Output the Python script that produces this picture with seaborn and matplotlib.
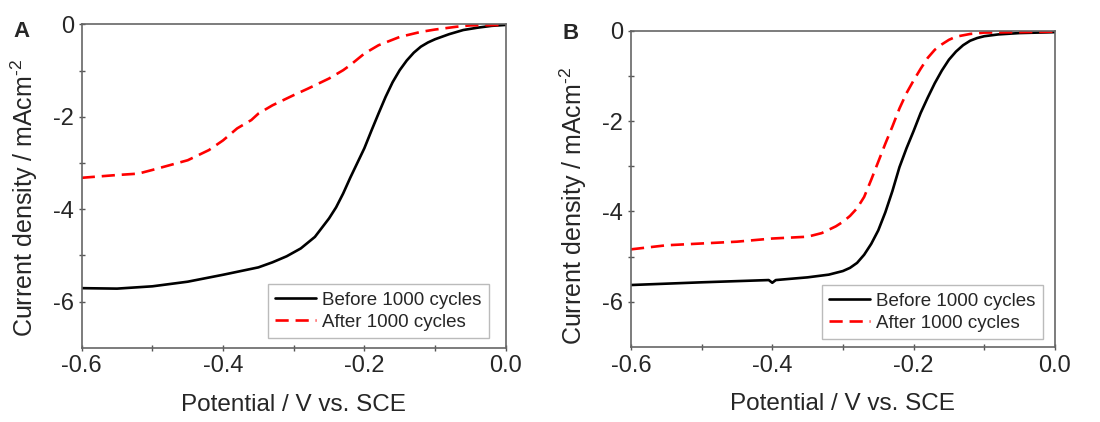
import numpy as np
import pandas as pd
import matplotlib
matplotlib.use('Agg')
import matplotlib.pyplot as plt
import seaborn as sns

# Painel A
a_before_x = [-0.60, -0.55, -0.50, -0.45, -0.40, -0.35, -0.33, -0.31, -0.29, -0.27, -0.25,
              -0.24, -0.23, -0.22, -0.21, -0.20, -0.19, -0.18, -0.17, -0.16, -0.15, -0.14,
              -0.13, -0.12, -0.11, -0.10, -0.08, -0.06, -0.04, -0.02, 0.00]
a_before_y = [-5.71, -5.72, -5.67, -5.57, -5.42, -5.26, -5.15, -5.02, -4.85, -4.60, -4.20,
              -3.96, -3.66, -3.32, -3.00, -2.68, -2.30, -1.93, -1.57, -1.25, -0.99, -0.78,
              -0.61, -0.48, -0.39, -0.32, -0.21, -0.12, -0.07, -0.03, -0.01]
a_after_x = [-0.60, -0.55, -0.52, -0.50, -0.45, -0.42, -0.40, -0.38, -0.36, -0.35, -0.33,
             -0.30, -0.28, -0.25, -0.23, -0.22, -0.20, -0.18, -0.15, -0.12, -0.10, -0.07,
             -0.05, 0.00]
a_after_y = [-3.32, -3.26, -3.23, -3.15, -2.94, -2.72, -2.51, -2.25, -2.07, -1.93, -1.75,
             -1.53, -1.39, -1.17, -0.99, -0.88, -0.63, -0.45, -0.27, -0.16, -0.11, -0.05,
             -0.02, -0.01]

# Painel B
b_before_x = [-0.60, -0.50, -0.405, -0.40, -0.395, -0.35, -0.32, -0.30, -0.29, -0.28, -0.27,
              -0.26, -0.25, -0.24, -0.23, -0.22, -0.21, -0.20, -0.19, -0.18, -0.17, -0.16,
              -0.15, -0.14, -0.13, -0.12, -0.11, -0.10, -0.08, -0.05, 0.00]
b_before_y = [-5.63, -5.57, -5.52, -5.58, -5.52, -5.46, -5.40, -5.32, -5.25, -5.14, -4.96,
              -4.72, -4.42, -4.02, -3.55, -3.02, -2.60, -2.22, -1.82, -1.48, -1.16, -0.88,
              -0.64, -0.46, -0.32, -0.22, -0.16, -0.12, -0.08, -0.05, -0.03]
b_after_x = [-0.60, -0.55, -0.50, -0.45, -0.40, -0.35, -0.33, -0.31, -0.30, -0.29, -0.28,
             -0.27, -0.26, -0.25, -0.24, -0.23, -0.22, -0.21, -0.20, -0.19, -0.18, -0.17,
             -0.16, -0.15, -0.14, -0.12, -0.10, 0.00]
b_after_y = [-4.84, -4.75, -4.71, -4.67, -4.60, -4.56, -4.48, -4.33, -4.23, -4.10, -3.93,
             -3.68, -3.30, -2.90, -2.50, -2.12, -1.72, -1.38, -1.10, -0.84, -0.60, -0.42,
             -0.30, -0.20, -0.13, -0.07, -0.04, -0.02]

labels = ['Before 1000 cycles', 'After 1000 cycles']
panels = ['A', 'B']


def tabela(xb, yb, xa, ya):
    return pd.concat([
        pd.DataFrame({'x': xb, 'y': yb, 'serie': labels[0]}),
        pd.DataFrame({'x': xa, 'y': ya, 'serie': labels[1]}),
    ], ignore_index=True)


dados = [tabela(a_before_x, a_before_y, a_after_x, a_after_y),
         tabela(b_before_x, b_before_y, b_after_x, b_after_y)]

sns.set_style('ticks')
plt.rcParams['font.family'] = ['Liberation Sans', 'DejaVu Sans']
plt.rcParams['mathtext.fontset'] = 'custom'
plt.rcParams['mathtext.rm'] = 'Liberation Sans'

fig = plt.figure(figsize=(11, 4.22), dpi=100)
posicoes = [[0.0743, 0.176, 0.3854, 0.766], [0.5736, 0.178, 0.3854, 0.749]]
legend_anchor = [(0.9606, 0.030), (0.9717, 0.024)]
ylabel_pos = [(-0.099, 0.463), (-0.099, 0.445)]
letra_pos = [(0.012, 0.925), (0.511, 0.921)]

for i, df in enumerate(dados):
    ax = fig.add_axes(posicoes[i])
    sns.lineplot(data=df, x='x', y='y', hue='serie', style='serie',
                 palette={labels[0]: 'black', labels[1]: '#ff0000'},
                 dashes={labels[0]: '', labels[1]: (5, 2.6)},
                 linewidth=1.9, sort=False, estimator=None, ax=ax)
    ax.set_xlim(-0.6, 0.0)
    ax.set_ylim(-7, 0)
    ax.set_xticks([-0.6, -0.4, -0.2, 0.0])
    ax.set_xticklabels(['-0.6', '-0.4', '-0.2', '0.0'])
    ax.set_xticks([-0.5, -0.3, -0.1], minor=True)
    ax.set_yticks([0, -2, -4, -6])
    ax.set_yticklabels(['0', '-2', '-4', '-6'])
    ax.set_yticks([-1, -3, -5], minor=True)
    ax.tick_params(which='major', direction='inout', length=5, width=1,
                   color='#555555', labelsize=17, pad=3)
    ax.tick_params(which='minor', direction='inout', length=4, width=1, color='#555555')
    for s in ax.spines.values():
        s.set_visible(True)
        s.set_color('#666666')
        s.set_linewidth(1.2)
    ax.set_xlabel('Potential / V vs. SCE', fontsize=17.5, labelpad=12)
    ax.set_ylabel(r'Current density / mAcm$^{\text{-}2}$', fontsize=18)
    ax.yaxis.set_label_coords(*ylabel_pos[i])

    leg = ax.legend(loc='lower right', bbox_to_anchor=legend_anchor[i], fontsize=13.5,
                    frameon=True, fancybox=False, handlelength=2.2, handletextpad=0.3,
                    borderpad=0.4, labelspacing=0.25, borderaxespad=0, title=None)
    leg.get_frame().set_edgecolor('#aaaaaa')
    leg.get_frame().set_linewidth(1.0)

    fig.text(letra_pos[i][0], letra_pos[i][1], panels[i], fontsize=16,
             fontweight='bold', ha='left', va='center')

plt.savefig('out.png', dpi=100)
